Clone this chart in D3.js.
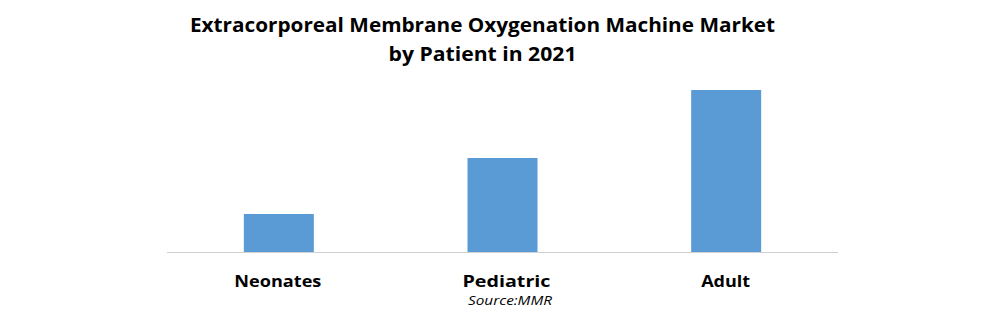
<!DOCTYPE html>
<html>
<head>
<meta charset="utf-8">
<script src="https://cdn.jsdelivr.net/npm/d3@7"></script>
<style>
  html, body { margin: 0; padding: 0; background: #fff; }
  svg { display: block; }
</style>
</head>
<body>
<svg id="chart" width="1007" height="314"></svg>
<script>
const categories = ["Neonates", "Pediatric", "Adult"];
const values = [38, 94, 162];
const titleLines = ["Extracorporeal Membrane Oxygenation Machine Market", "by Patient in 2021"];
const sourceText = "Source:MMR";

const svg = d3.select("#chart");
const font = "'Open Sans', 'Noto Sans', sans-serif";

const x = d3.scaleBand()
  .domain(categories)
  .range([167, 838])
  .paddingInner(0.687)
  .paddingOuter(0.3435);

const y = d3.scaleLinear()
  .domain([0, 162])
  .range([252, 90]);

// baseline
svg.append("line")
  .attr("x1", 167).attr("x2", 838)
  .attr("y1", y(0) + 0.5).attr("y2", y(0) + 0.5)
  .attr("stroke", "#d0d0d0")
  .attr("stroke-width", 1);

// bars
svg.selectAll("rect.bar")
  .data(categories)
  .join("rect")
  .attr("class", "bar")
  .attr("x", d => x(d))
  .attr("width", x.bandwidth())
  .attr("y", (d, i) => y(values[i]))
  .attr("height", (d, i) => y(0) - y(values[i]))
  .attr("fill", "#5b9bd5");

// category labels
const labelWidths = { "Neonates": 87, "Pediatric": 88, "Adult": 49 };
svg.selectAll("text.cat")
  .data(categories)
  .join("text")
  .attr("class", "cat")
  .attr("x", d => x(d) + x.bandwidth() / 2 + (d === "Pediatric" ? 4 : (d === "Neonates" ? -1 : -0.5)))
  .attr("y", 287)
  .attr("text-anchor", "middle")
  .attr("font-family", font)
  .attr("font-weight", "bold")
  .attr("font-size", 16.5)
  .attr("fill", "#000")
  .attr("textLength", d => labelWidths[d])
  .attr("lengthAdjust", "spacingAndGlyphs")
  .text(d => d);

// title
const titleWidths = [585, 188];
svg.selectAll("text.title")
  .data(titleLines)
  .join("text")
  .attr("class", "title")
  .attr("x", 482.5)
  .attr("y", (d, i) => 32 + i * 29)
  .attr("text-anchor", "middle")
  .attr("font-family", font)
  .attr("font-weight", "bold")
  .attr("font-size", 19)
  .attr("fill", "#000")
  .attr("textLength", (d, i) => titleWidths[i])
  .attr("lengthAdjust", "spacingAndGlyphs")
  .text(d => d);

// source
svg.append("text")
  .attr("x", 510)
  .attr("y", 304.5)
  .attr("text-anchor", "middle")
  .attr("font-family", font)
  .attr("font-style", "italic")
  .attr("font-size", 12.5)
  .attr("fill", "#000")
  .attr("textLength", 84)
  .attr("lengthAdjust", "spacingAndGlyphs")
  .text(sourceText);
</script>
</body>
</html>
